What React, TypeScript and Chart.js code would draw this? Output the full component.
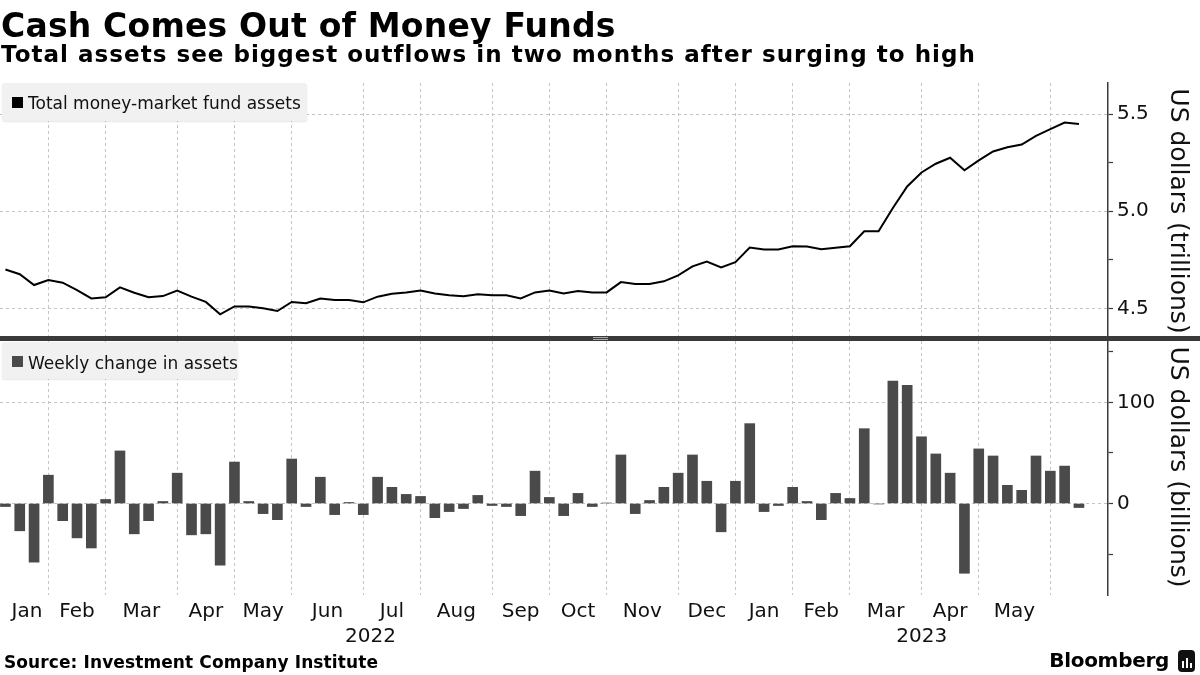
import React, { useEffect, useRef } from "react";
import { Chart, registerables } from "chart.js";

Chart.register(...registerables);

// ---------- data ----------
const weeks: string[] = [
  "2022-01-12", "2022-01-19", "2022-01-26",
  "2022-02-02", "2022-02-09", "2022-02-16", "2022-02-23",
  "2022-03-02", "2022-03-09", "2022-03-16", "2022-03-23", "2022-03-30",
  "2022-04-06", "2022-04-13", "2022-04-20", "2022-04-27",
  "2022-05-04", "2022-05-11", "2022-05-18", "2022-05-25",
  "2022-06-01", "2022-06-08", "2022-06-15", "2022-06-22", "2022-06-29",
  "2022-07-06", "2022-07-13", "2022-07-20", "2022-07-27",
  "2022-08-03", "2022-08-10", "2022-08-17", "2022-08-24", "2022-08-31",
  "2022-09-07", "2022-09-14", "2022-09-21", "2022-09-28",
  "2022-10-05", "2022-10-12", "2022-10-19", "2022-10-26",
  "2022-11-02", "2022-11-09", "2022-11-16", "2022-11-23", "2022-11-30",
  "2022-12-07", "2022-12-14", "2022-12-21", "2022-12-28",
  "2023-01-04", "2023-01-11", "2023-01-18", "2023-01-25",
  "2023-02-01", "2023-02-08", "2023-02-15", "2023-02-22",
  "2023-03-01", "2023-03-08", "2023-03-15", "2023-03-22", "2023-03-29",
  "2023-04-05", "2023-04-12", "2023-04-19", "2023-04-26",
  "2023-05-03", "2023-05-10", "2023-05-17", "2023-05-24", "2023-05-31",
  "2023-06-07", "2023-06-14", "2023-06-21",
];

// Total money-market fund assets, US$ trillions
const totalAssets: number[] = [
  4.700, 4.676, 4.620, 4.646, 4.632, 4.594, 4.551, 4.557, 4.608, 4.580,
  4.557, 4.563, 4.592, 4.560, 4.533, 4.469, 4.510, 4.510, 4.500, 4.486,
  4.533, 4.526, 4.551, 4.543, 4.543, 4.531, 4.560, 4.575, 4.582, 4.592,
  4.577, 4.567, 4.562, 4.572, 4.567, 4.567, 4.551, 4.582, 4.592, 4.577,
  4.589, 4.582, 4.582, 4.635, 4.625, 4.625, 4.639, 4.670, 4.716, 4.741,
  4.711, 4.738, 4.813, 4.803, 4.803, 4.820, 4.818, 4.805, 4.812, 4.820,
  4.897, 4.897, 5.017, 5.128, 5.200, 5.245, 5.276, 5.211, 5.262, 5.308,
  5.330, 5.344, 5.389, 5.423, 5.457, 5.450,
];

// Weekly change in assets, US$ billions
const weeklyChange: number[] = [
  -3, -27, -58, 28, -17, -34, -44, 4, 52, -30,
  -17, 2, 30, -31, -30, -61, 41, 2, -10, -16,
  44, -3, 26, -11, 1, -11, 26, 16, 9, 7,
  -14, -8, -5, 8, -2, -3, -12, 32, 6, -12,
  10, -3, 0.5, 48, -10, 3, 16, 30, 48, 22,
  -28, 22, 79, -8, -2, 16, 2, -16, 10, 5,
  74, -0.5, 121, 117, 66, 49, 30, -69, 54, 47,
  18, 13, 47, 32, 37, -4,
];

const monthLabels: string[] = [
  "Jan", "Feb", "Mar", "Apr", "May", "Jun", "Jul", "Aug", "Sep", "Oct", "Nov", "Dec",
  "Jan", "Feb", "Mar", "Apr", "May",
];
const yearLabels: string[] = ["2022", "2023"];

const assetTicks: number[] = [4.5, 4.75, 5.0, 5.25, 5.5];
const assetTickLabels: string[] = ["4.5", "", "5.0", "", "5.5"];
const changeTicks: number[] = [-50, 0, 50, 100, 150];
const changeTickLabels: string[] = ["", "0", "", "100", ""];

// ---------- derived from the categories ----------
const monthStarts: number[] = [];
const yearStarts: number[] = [];
weeks.forEach((d, i) => {
  if (i === 0 || d.slice(0, 7) !== weeks[i - 1].slice(0, 7)) monthStarts.push(i);
  if (i === 0 || d.slice(0, 4) !== weeks[i - 1].slice(0, 4)) yearStarts.push(i);
});

// ---------- layout / style constants ----------
const X_MIN = -0.38;
const X_MAX = 77.03;
const FONT = "'DejaVu Sans', 'Noto Sans', sans-serif";
const TEXT = "#111111";
const GRID = "#c4c4c4";
const AXIS = "#3a3a3a";
const BAR = "#4a4a4a";

const gridIdx = monthStarts.slice(1);
const monthMid = monthLabels.map((_, k) => (monthStarts[k] + monthStarts[k + 1]) / 2);
const yearMid = yearLabels.map((_, k) => (yearStarts[k] + (yearStarts[k + 1] ?? X_MAX)) / 2);

export default function App() {
  const ref = useRef<HTMLCanvasElement | null>(null);

  useEffect(() => {
    document.body.style.margin = "0";
    Chart.defaults.font.family = FONT;
    const canvas = ref.current!;
    const xBase = {
      type: "linear" as const,
      position: "bottom" as const,
      min: X_MIN,
      max: X_MAX,
      bounds: "data" as const,
      offset: false,
    };
    const chart = new Chart(canvas, {
      type: "bar",
      data: {
        datasets: [
          {
            type: "line",
            label: "Total money-market fund assets",
            data: weeks.map((_, i) => ({ x: i, y: totalAssets[i] })),
            xAxisID: "x",
            yAxisID: "yAssets",
            borderColor: "#000000",
            borderWidth: 2,
            pointRadius: 0,
            tension: 0,
            fill: false,
          } as any,
          {
            type: "bar",
            label: "Weekly change in assets",
            data: weeks.map((_, i) => ({ x: i, y: weeklyChange[i] })),
            xAxisID: "x",
            yAxisID: "yChange",
            backgroundColor: BAR,
            barThickness: 10,
            borderWidth: 0,
          } as any,
        ],
      },
      options: {
        responsive: false,
        animation: false,
        devicePixelRatio: 1,
        events: [],
        layout: { padding: { top: 83, left: 0, right: 0, bottom: 0 } },
        plugins: {
          legend: { display: false },
          title: { display: false },
          tooltip: { enabled: false },
        },
        scales: {
          yAssets: {
            type: "linear",
            position: "right",
            stack: "panels",
            stackWeight: 1,
            offset: false,
            min: 4.342,
            max: 5.661,
            bounds: "data",
            afterBuildTicks: (s: any) => {
              s.ticks = assetTicks.map((v) => ({ value: v }));
            },
            afterFit: (s: any) => {
              s.width = 92;
            },
            ticks: {
              callback: (_v: any, i: number) => assetTickLabels[i],
              padding: 4,
              autoSkip: false,
              font: { size: 20 },
              color: TEXT,
            },
            grid: {
              color: (c: any) => (assetTickLabels[c.index] ? GRID : "rgba(0,0,0,0)"),
              lineWidth: 1,
              drawTicks: true,
              tickLength: 5,
              tickColor: AXIS,
              tickWidth: 1.2,
            },
            border: { display: true, color: AXIS, width: 1.5, dash: [3, 3] },
            title: {
              display: true,
              text: "US dollars (trillions)",
              font: { size: 25 },
              color: TEXT,
              padding: { top: 8, bottom: 0 },
            },
          } as any,
          yChange: {
            type: "linear",
            position: "right",
            stack: "panels",
            stackWeight: 1,
            offset: false,
            min: -90.5,
            max: 162.7,
            bounds: "data",
            afterBuildTicks: (s: any) => {
              s.ticks = changeTicks.map((v) => ({ value: v }));
            },
            afterFit: (s: any) => {
              s.width = 92;
            },
            ticks: {
              callback: (_v: any, i: number) => changeTickLabels[i],
              padding: 4,
              autoSkip: false,
              font: { size: 20 },
              color: TEXT,
            },
            grid: {
              color: (c: any) => (changeTickLabels[c.index] ? GRID : "rgba(0,0,0,0)"),
              lineWidth: 1,
              drawTicks: true,
              tickLength: 5,
              tickColor: AXIS,
              tickWidth: 1.2,
            },
            border: { display: true, color: AXIS, width: 1.5, dash: [3, 3] },
            title: {
              display: true,
              text: "US dollars (billions)",
              font: { size: 25 },
              color: TEXT,
              padding: { top: 8, bottom: 0 },
            },
          } as any,
          x: {
            ...xBase,
            afterBuildTicks: (s: any) => {
              s.ticks = gridIdx.map((v) => ({ value: v }));
            },
            afterFit: (s: any) => {
              s.height = 0;
            },
            ticks: { display: false, autoSkip: false },
            grid: { display: true, color: GRID, lineWidth: 1, drawTicks: false, offset: false },
            border: { display: false, dash: [3, 3] },
          } as any,
          xMonths: {
            ...xBase,
            afterBuildTicks: (s: any) => {
              s.ticks = monthMid.map((v) => ({ value: v }));
            },
            afterFit: (s: any) => {
              s.height = 26;
            },
            ticks: {
              callback: (_v: any, i: number) => monthLabels[i],
              autoSkip: false,
              maxRotation: 0,
              minRotation: 0,
              padding: 5,
              font: { size: 20 },
              color: TEXT,
            },
            grid: { display: false, drawTicks: false, offset: false },
            border: { display: false },
          } as any,
          xYears: {
            ...xBase,
            afterBuildTicks: (s: any) => {
              s.ticks = yearMid.map((v) => ({ value: v }));
            },
            afterFit: (s: any) => {
              s.height = 54;
            },
            ticks: {
              callback: (_v: any, i: number) => yearLabels[i],
              autoSkip: false,
              maxRotation: 0,
              minRotation: 0,
              padding: 4,
              font: { size: 20 },
              color: TEXT,
            },
            grid: { display: false, drawTicks: false, offset: false },
            border: { display: false },
          } as any,
        },
      } as any,
    });
    return () => chart.destroy();
  }, []);

  const abs = (s: React.CSSProperties): React.CSSProperties => ({ position: "absolute", ...s });
  const legendBox: React.CSSProperties = {
    background: "#f1f1f1",
    borderRadius: 3,
    boxShadow: "0 1px 2px rgba(0,0,0,0.10)",
  };

  return (
    <div
      style={{
        position: "absolute",
        left: 0,
        top: 0,
        width: 1200,
        height: 675,
        overflow: "hidden",
        background: "#ffffff",
        fontFamily: FONT,
        color: "#000",
      }}
    >
      <canvas ref={ref} width={1200} height={675} style={abs({ left: 0, top: 0, width: 1200, height: 675 })} />

      <div
        style={abs({
          left: 1,
          top: 9.4,
          fontSize: 33,
          lineHeight: "33px",
          fontWeight: 700,
          letterSpacing: 0.2,
          whiteSpace: "nowrap",
        })}
      >
        Cash Comes Out of Money Funds
      </div>
      <div
        style={abs({
          left: 1,
          top: 42.8,
          fontSize: 23,
          lineHeight: "23px",
          fontWeight: 700,
          letterSpacing: 1.03,
          whiteSpace: "nowrap",
        })}
      >
        Total assets see biggest outflows in two months after surging to high
      </div>

      {/* legend: top panel */}
      <div style={abs({ left: 2, top: 83, width: 305, height: 38, ...legendBox })} />
      <div style={abs({ left: 12, top: 97, width: 11, height: 11, background: "#000" })} />
      <div style={abs({ left: 28, top: 94.9, fontSize: 17, lineHeight: "17px", whiteSpace: "nowrap", color: TEXT })}>
        Total money-market fund assets
      </div>

      {/* panel divider */}
      <div style={abs({ left: 0, top: 336, width: 1200, height: 5, background: "#3a3a3a" })} />
      <div
        style={abs({
          left: 593,
          top: 337,
          width: 15,
          height: 1,
          borderTop: "1px solid #a8a8a8",
          borderBottom: "1px solid #a8a8a8",
        })}
      />

      {/* legend: bottom panel */}
      <div style={abs({ left: 2, top: 342, width: 236, height: 37, ...legendBox })} />
      <div style={abs({ left: 12, top: 356, width: 11, height: 11, background: BAR })} />
      <div style={abs({ left: 28, top: 354.9, fontSize: 17, lineHeight: "17px", whiteSpace: "nowrap", color: TEXT })}>
        Weekly change in assets
      </div>

      {/* footer */}
      <div
        style={abs({
          left: 4,
          top: 653.6,
          fontSize: 17,
          lineHeight: "17px",
          fontWeight: 700,
          letterSpacing: 0.1,
          whiteSpace: "nowrap",
        })}
      >
        Source: Investment Company Institute
      </div>
      <div
        style={abs({
          right: 31,
          top: 650,
          fontSize: 20,
          lineHeight: "20px",
          fontWeight: 700,
          whiteSpace: "nowrap",
          letterSpacing: -0.3,
        })}
      >
        Bloomberg
      </div>
      <div style={abs({ left: 1178, top: 650, width: 17, height: 22, background: "#111", borderRadius: 4 })}>
        <div style={abs({ left: 4, top: 11, width: 2, height: 7, background: "#fff" })} />
        <div style={abs({ left: 8, top: 8, width: 2, height: 10, background: "#fff" })} />
        <div style={abs({ left: 12, top: 13, width: 2, height: 5, background: "#fff" })} />
      </div>
    </div>
  );
}
